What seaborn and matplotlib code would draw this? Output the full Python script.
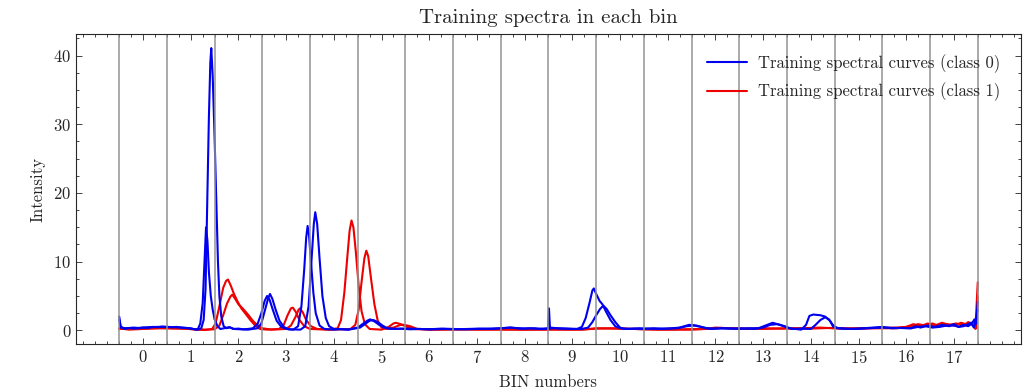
"""Training spectra per BIN, class 0 vs class 1."""

import matplotlib

matplotlib.use("Agg")
import matplotlib.pyplot as plt
from matplotlib.ticker import AutoMinorLocator
import pandas as pd
import seaborn as sns

# --- data (x = BIN position, y = intensity) --------------------------------
BLUE_A_X = [-0.5, -0.47, -0.4, -0.3, -0.2, -0.1, 0.0, 0.1, 0.2, 0.3, 0.4, 0.5, 0.6, 0.7,
            0.8, 0.9, 1.0, 1.1, 1.15, 1.2, 1.25, 1.29, 1.32, 1.35, 1.38, 1.42, 1.46,
            1.5, 1.56, 1.62, 1.7, 1.8, 1.9, 2.0, 2.1, 2.2, 2.3, 2.4, 2.48, 2.55, 2.6,
            2.65, 2.72, 2.8, 2.9, 3.0, 3.15, 3.25, 3.32, 3.38, 3.42, 3.45, 3.48,
            3.52, 3.57, 3.62, 3.7, 3.8, 4.0, 4.15, 4.3, 4.5, 4.6, 4.7, 4.76, 4.85,
            4.95, 5.05, 5.2, 5.4, 5.6, 5.8, 6.0, 6.25, 6.5, 6.75, 7.0, 7.25, 7.5,
            7.7, 7.9, 8.1, 8.3, 8.49, 8.51, 8.53, 8.7, 8.9, 9.1, 9.2, 9.28, 9.36,
            9.42, 9.45, 9.5, 9.57, 9.63, 9.7, 9.8, 9.9, 10.0, 10.2, 10.4, 10.6,
            10.8, 11.0, 11.25, 11.45, 11.6, 11.8, 12.0, 12.2, 12.5, 12.7, 12.9,
            13.05, 13.2, 13.35, 13.55, 13.8, 13.9, 13.97, 14.05, 14.2, 14.3, 14.4,
            14.47, 14.6, 14.8, 15.0, 15.3, 15.5, 15.7, 15.9, 16.1, 16.2, 16.3,
            16.45, 16.6, 16.75, 16.9, 17.0, 17.1, 17.2, 17.3, 17.38, 17.43, 17.46,
            17.48, 17.5]
BLUE_A_Y = [2.0, 0.6, 0.2, 0.35, 0.25, 0.3, 0.4, 0.35, 0.5, 0.45, 0.55, 0.5, 0.45, 0.5,
            0.4, 0.35, 0.3, 0.1, 0.2, 1.0, 4.0, 10.5, 15.0, 13.0, 8.5, 5.0, 3.0,
            1.6, 0.6, 0.2, 0.3, 0.45, 0.2, 0.25, 0.15, 0.2, 0.3, 0.9, 2.5, 4.3, 5.0,
            4.5, 3.0, 1.4, 0.5, 0.2, 0.1, 0.6, 3.5, 9.0, 13.5, 15.2, 13.8,
            10.0, 5.5, 2.5, 0.7, 0.2, 0.1, 0.2, 0.1, 0.4, 0.9, 1.4, 1.6, 1.3,
            0.8, 0.4, 0.2, 0.25, 0.15, 0.2, 0.15, 0.25, 0.2, 0.15, 0.2, 0.25, 0.3,
            0.4, 0.25, 0.3, 0.2, 0.3, 3.2, 0.4, 0.3, 0.25, 0.2, 0.5, 1.8, 4.0,
            5.8, 6.1, 5.3, 4.3, 3.8, 2.8, 1.5, 0.6, 0.3, 0.2, 0.3, 0.25,
            0.2, 0.25, 0.4, 0.8, 0.7, 0.3, 0.25, 0.3, 0.2, 0.3, 0.3,
            0.7, 1.1, 0.8, 0.3, 0.1, 0.8, 2.1, 2.3, 2.2, 2.0, 1.4,
            0.5, 0.3, 0.2, 0.25, 0.4, 0.5, 0.3, 0.35, 0.3, 0.6, 0.4,
            0.7, 0.5, 0.8, 0.6, 0.9, 0.5, 0.8, 0.6, 1.0, 1.6, 0.9,
            2.5, 4.2]

BLUE_B_X = [-0.5, -0.47, -0.35, -0.2, -0.1, 0.1, 0.3, 0.5, 0.7, 0.9, 1.05, 1.15, 1.22,
            1.27, 1.31, 1.35, 1.38, 1.41, 1.43, 1.46, 1.5, 1.54, 1.57, 1.6, 1.64,
            1.69, 1.75, 1.82, 1.9, 2.05, 2.2, 2.4, 2.48, 2.55, 2.62, 2.66, 2.71,
            2.78, 2.86, 2.95, 3.05, 3.3, 3.4, 3.47, 3.53, 3.58, 3.61, 3.65, 3.7,
            3.76, 3.83, 3.9, 4.0, 4.3, 4.55, 4.65, 4.75, 4.83, 4.92, 5.02, 5.12,
            5.3, 5.55, 5.8, 6.05, 6.3, 6.55, 6.8, 7.05, 7.3, 7.5, 7.7, 8.0, 8.2,
            8.4, 8.6, 8.8, 9.0, 9.2, 9.33, 9.42, 9.5, 9.58, 9.65, 9.72, 9.8, 9.9,
            10.0, 10.1, 10.3, 10.5, 10.7, 10.9, 11.2, 11.4, 11.55, 11.7, 11.9,
            12.1, 12.3, 12.55, 12.8, 13.0, 13.15, 13.3, 13.45, 13.6, 13.8, 14.0,
            14.1, 14.2, 14.3, 14.38, 14.46, 14.55, 14.7, 14.9, 15.2, 15.5, 15.8,
            16.1, 16.25, 16.4, 16.55, 16.7, 16.85, 17.0, 17.1, 17.2, 17.3, 17.35,
            17.42, 17.47, 17.5]
BLUE_B_Y = [1.6, 0.4, 0.3, 0.4, 0.35, 0.45, 0.5, 0.5, 0.45, 0.35, 0.2, 0.1, 0.3,
            1.5, 6.0, 20.0, 31.0, 39.0, 41.1, 37.0, 28.0, 18.0, 10.0, 5.0, 2.0,
            0.6, 0.3, 0.45, 0.2, 0.15, 0.1, 0.3, 1.0, 2.8, 4.6, 5.3, 4.6,
            3.0, 1.4, 0.5, 0.15, 0.1, 0.6, 3.5, 10.0, 15.5, 17.2, 15.5, 10.5,
            5.0, 1.8, 0.6, 0.2, 0.1, 0.4, 0.9, 1.4, 1.5, 1.2, 0.7, 0.3,
            0.2, 0.25, 0.2, 0.15, 0.2, 0.15, 0.2, 0.25, 0.2, 0.3, 0.4, 0.25, 0.3,
            0.2, 0.3, 0.25, 0.2, 0.2, 0.4, 1.2, 2.2, 3.1, 3.6, 3.1, 2.2, 1.2,
            0.4, 0.2, 0.25, 0.2, 0.3, 0.25, 0.3, 0.6, 0.7, 0.5, 0.2,
            0.3, 0.25, 0.3, 0.2, 0.4, 0.8, 0.9, 0.6, 0.2, 0.25, 0.2,
            0.8, 1.5, 1.9, 1.6, 0.8, 0.3, 0.25, 0.2, 0.3, 0.4, 0.35,
            0.3, 0.5, 0.6, 0.4, 0.5, 0.7, 0.7, 0.5, 0.6, 0.9, 1.1,
            0.4, 1.8, 3.0]

RED_A_X = [-0.5, -0.3, 0.0, 0.4, 0.8, 1.1, 1.3, 1.45, 1.52, 1.6, 1.68, 1.74, 1.78,
           1.84, 1.9, 1.98, 2.06, 2.15, 2.25, 2.35, 2.45, 2.6, 2.85, 2.95, 3.03,
           3.1, 3.14, 3.2, 3.28, 3.38, 3.5, 3.7, 3.9, 4.08, 4.15, 4.22, 4.28, 4.33,
           4.37, 4.41, 4.46, 4.52, 4.58, 4.65, 4.75, 5.0, 5.15, 5.25, 5.3, 5.4,
           5.5, 5.65, 6.0, 6.5, 7.0, 7.5, 8.0, 8.5, 9.0, 9.3, 9.5, 9.8, 10.1,
           10.5, 11.0, 11.5, 11.8, 12.0, 12.3, 12.6, 13.0, 13.4, 13.8, 14.2,
           14.45, 15.0, 15.5, 15.8, 16.0, 16.15, 16.3, 16.45, 16.6, 16.75, 16.9,
           17.05, 17.2, 17.3, 17.4, 17.45, 17.5]
RED_A_Y = [0.3, 0.1, 0.2, 0.35, 0.3, 0.1, 0.05, 0.2, 1.0, 3.5, 6.2, 7.2, 7.4,
           6.5, 5.4, 4.2, 3.2, 2.4, 1.5, 0.7, 0.2, 0.1, 0.2, 0.8, 2.2,
           3.2, 3.3, 2.7, 1.5, 0.6, 0.2, 0.15, 0.1, 0.3, 1.5, 5.5, 10.5, 14.5,
           16.0, 15.0, 11.5, 6.5, 2.8, 0.9, 0.2, 0.1, 0.5, 1.0, 1.1, 0.9,
           0.6, 0.2, 0.1, 0.15, 0.1, 0.15, 0.1, 0.1, 0.1, 0.15, 0.25, 0.3, 0.25,
           0.15, 0.1, 0.1, 0.2, 0.4, 0.3, 0.2, 0.3, 0.25, 0.3, 0.4,
           0.3, 0.3, 0.35, 0.4, 0.5, 0.9, 0.6, 1.0, 0.7, 1.1, 0.8,
           1.0, 0.7, 1.2, 0.9, 0.2, 7.0]

RED_B_X = [-0.5, -0.2, 0.3, 0.7, 1.0, 1.3, 1.5, 1.6, 1.68, 1.76, 1.83, 1.87, 1.93,
           2.0, 2.1, 2.2, 2.3, 2.4, 2.5, 2.7, 3.0, 3.1, 3.2, 3.26, 3.29, 3.35,
           3.42, 3.52, 3.65, 4.0, 4.35, 4.45, 4.52, 4.58, 4.64, 4.68, 4.72, 4.78,
           4.85, 4.92, 5.0, 5.1, 5.25, 5.4, 5.47, 5.6, 5.75, 6.2, 6.8, 7.4, 8.0,
           8.6, 9.2, 9.5, 9.9, 10.3, 10.8, 11.3, 11.8, 12.1, 12.5, 13.0, 13.5,
           14.0, 14.4, 14.8, 15.3, 15.8, 16.1, 16.25, 16.4, 16.55, 16.7, 16.85,
           17.0, 17.15, 17.3, 17.42, 17.47, 17.5]
RED_B_Y = [0.2, 0.25, 0.3, 0.25, 0.2, 0.1, 0.15, 0.7, 2.2, 3.9, 4.9, 5.2, 4.6,
           3.8, 3.1, 2.3, 1.4, 0.7, 0.3, 0.1, 0.2, 0.7, 2.0, 3.0, 3.2, 2.6,
           1.5, 0.6, 0.2, 0.1, 0.2, 0.8, 3.0, 7.0, 10.5, 11.6, 10.8, 7.5,
           3.8, 1.4, 0.4, 0.2, 0.4, 0.8, 0.8, 0.6, 0.2, 0.1, 0.15, 0.1, 0.1,
           0.15, 0.1, 0.3, 0.25, 0.2, 0.1, 0.15, 0.2, 0.35, 0.25, 0.2, 0.3,
           0.25, 0.35, 0.2, 0.3, 0.3, 0.6, 0.9, 0.7, 1.0, 0.6, 0.9,
           0.7, 1.1, 0.8, 1.3, 0.3, 5.0]

CLASS_LABELS = ["Training spectral curves (class 0)", "Training spectral curves (class 1)"]
CLASS_COLORS = ["#0000ee", "#ee0000"]
BIN_TICKS = list(range(18))
BIN_EDGES = [b - 0.5 for b in range(19)]


def build_frame() -> pd.DataFrame:
    curves = [
        ("class1_a", CLASS_LABELS[1], RED_A_X, RED_A_Y),
        ("class1_b", CLASS_LABELS[1], RED_B_X, RED_B_Y),
        ("class0_a", CLASS_LABELS[0], BLUE_A_X, BLUE_A_Y),
        ("class0_b", CLASS_LABELS[0], BLUE_B_X, BLUE_B_Y),
    ]
    parts = [
        pd.DataFrame({"curve": name, "label": label, "bin": xs, "intensity": ys})
        for name, label, xs, ys in curves
    ]
    return pd.concat(parts, ignore_index=True)


def main() -> None:
    sns.set_theme(style="ticks")
    plt.rcParams.update(
        {
            "font.family": "serif",
            "font.serif": ["cmr10", "DejaVu Serif"],
            "mathtext.fontset": "cm",
            "axes.formatter.use_mathtext": True,
            "font.size": 12,
            "axes.labelsize": 12,
            "axes.titlesize": 15,
            "xtick.labelsize": 12,
            "ytick.labelsize": 12,
            "legend.fontsize": 12,
            "axes.linewidth": 0.8,
            "xtick.direction": "in",
            "ytick.direction": "in",
            "xtick.top": True,
            "ytick.right": True,
            "xtick.major.size": 4,
            "ytick.major.size": 4,
            "xtick.minor.size": 2,
            "ytick.minor.size": 2,
            "xtick.major.width": 0.6,
            "ytick.major.width": 0.6,
            "xtick.minor.width": 0.6,
            "ytick.minor.width": 0.6,
        }
    )

    df = build_frame()
    fig, ax = plt.subplots(figsize=(10.31, 3.91), dpi=100)
    fig.subplots_adjust(left=0.074, right=0.99, bottom=0.12, top=0.913)

    sns.lineplot(
        data=df,
        x="bin",
        y="intensity",
        hue="label",
        hue_order=[CLASS_LABELS[1], CLASS_LABELS[0]],
        palette=dict(zip(CLASS_LABELS, CLASS_COLORS)),
        units="curve",
        estimator=None,
        linewidth=1.5,
        ax=ax,
    )

    for edge in BIN_EDGES:
        ax.axvline(edge, color="#939393", lw=1.1)

    ax.set_xticks(BIN_TICKS)
    ax.xaxis.set_minor_locator(AutoMinorLocator(4))
    ax.yaxis.set_minor_locator(AutoMinorLocator(4))
    ax.tick_params(which="both", top=True, right=True, direction="in")
    ax.set_xlabel("BIN numbers", labelpad=6)
    ax.set_ylabel("Intensity", labelpad=6)
    ax.set_title("Training spectra in each bin", pad=8)

    handles, labels = ax.get_legend_handles_labels()
    order = [labels.index(lab) for lab in CLASS_LABELS]
    ax.legend(
        [handles[i] for i in order],
        [labels[i] for i in order],
        loc="upper right",
        frameon=False,
        handlelength=2.4,
        handletextpad=0.7,
        labelspacing=0.6,
        borderaxespad=0.8,
    )

    fig.savefig("out.png", dpi=100)


if __name__ == "__main__":
    main()
